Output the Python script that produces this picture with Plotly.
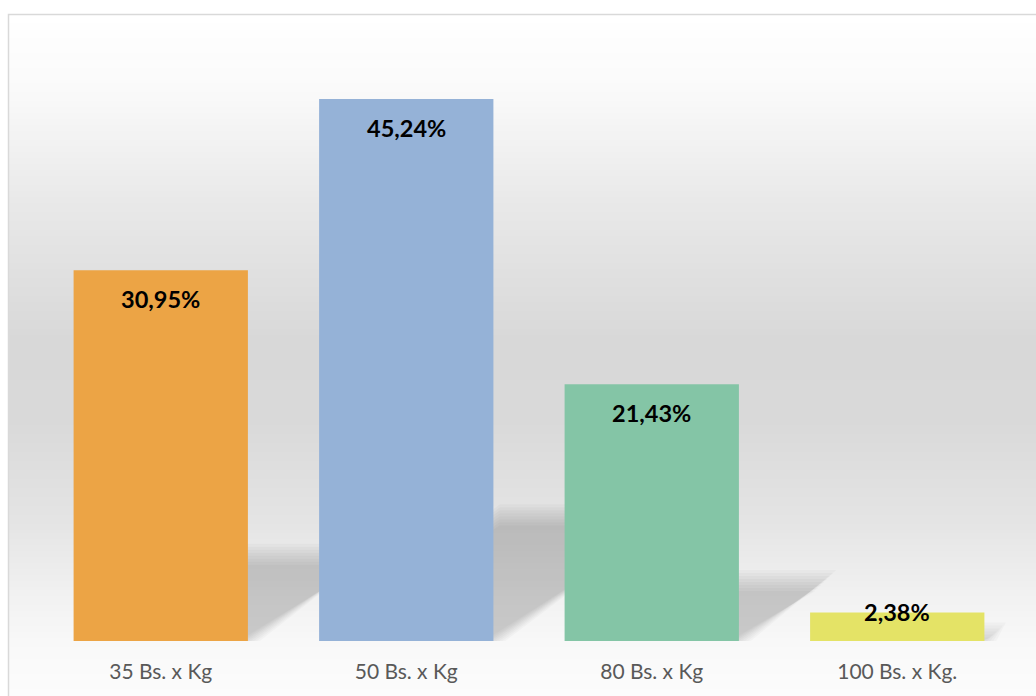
import plotly.graph_objects as go

# Price categories and the share of respondents for each
categories = ["35 Bs. x Kg", "50 Bs. x Kg", "80 Bs. x Kg", "100 Bs. x Kg."]
shares = [30.95, 45.24, 21.43, 2.38]
bar_colors = ["#eca445", "#95b2d7", "#84c5a6", "#e4e366"]

# Canvas and plot-area geometry (pixels)
W, H = 1036, 696
ML, MR, MT, MB = 38, 16, 42, 55
PW, PH = W - ML - MR, H - MT - MB
Y_MAX = 50
BAR_W = 0.71

px_per_unit = PH / Y_MAX
px_per_cat = PW / len(categories)


def paper_x(px):
    return (px - ML) / PW


def paper_y(py):
    return 1 - (py - MT) / PH


shapes = []

# Vertical gradient of the chart area: white -> grey -> white
stops = [(14, 255), (90, 250), (200, 233), (340, 216), (420, 217),
         (520, 228), (600, 242), (650, 249), (696, 252)]


def grey_at(py):
    for (y0, g0), (y1, g1) in zip(stops, stops[1:]):
        if y0 <= py <= y1:
            t = (py - y0) / (y1 - y0)
            return g0 + (g1 - g0) * t
    return stops[-1][1]


step = 3
py = 14
while py < H:
    g = int(round(grey_at(py + step / 2)))
    shapes.append(dict(
        type="rect", xref="paper", yref="paper", layer="below",
        x0=paper_x(9), x1=paper_x(W + 5),
        y0=paper_y(py + step + 0.6), y1=paper_y(py),
        line=dict(width=0), fillcolor=f"rgb({g},{g},{g})",
    ))
    py += step

# Soft perspective shadows cast behind each bar (stacked layers give a blur)
blur_steps = [-9, -6, -3, 0, 3, 6, 9, 12]
for i, v in enumerate(shares):
    left, right = i - BAR_W / 2, i + BAR_W / 2
    dy = 0.23 * v
    dx = 1.45 * dy * px_per_unit / px_per_cat
    for e in blur_steps:
        ex = e / px_per_cat
        ey = e / px_per_unit
        top = max(dy + ey, 0)
        path = (f"M {left},0 L {right + ex},0 "
                f"L {right + dx + ex},{top} L {left + dx},{top} Z")
        shapes.append(dict(
            type="path", xref="x", yref="y", layer="below", path=path,
            line=dict(width=0), fillcolor="rgba(0,0,0,0.022)",
        ))

# Chart border
shapes.append(dict(
    type="rect", xref="paper", yref="paper", layer="above",
    x0=paper_x(8.5), x1=paper_x(W + 20), y0=paper_y(H + 20), y1=paper_y(14.5),
    line=dict(color="#d9d9d9", width=1.5), fillcolor="rgba(0,0,0,0)",
))

xs = list(range(len(categories)))

fig = go.Figure()
fig.add_trace(go.Bar(
    x=xs, y=shares, width=BAR_W,
    marker=dict(color=bar_colors, line=dict(width=0)),
    hoverinfo="skip", showlegend=False,
))

# Value labels at the inside end of each bar
annotations = []
for i, v in enumerate(shares):
    bar_px = v * px_per_unit
    shift = -29 if bar_px > 60 else 0
    annotations.append(dict(
        x=i, y=v, xref="x", yref="y",
        text=f"{v:.2f}".replace(".", ",") + "%",
        showarrow=False, yanchor="middle", yshift=shift,
        font=dict(family="Lato", size=23.5, color="#000000", weight="bold"),
    ))

fig.update_layout(
    width=W, height=H,
    margin=dict(l=ML, r=MR, t=MT, b=MB, pad=0),
    paper_bgcolor="#ffffff",
    plot_bgcolor="rgba(0,0,0,0)",
    shapes=shapes,
    annotations=annotations,
    xaxis=dict(
        range=[-0.5, len(categories) - 0.5],
        tickvals=xs, ticktext=categories,
        showgrid=False, zeroline=False, showline=False, ticks="",
        tickfont=dict(family="Lato", size=21, color="#595959"),
        ticklabelstandoff=16,
        fixedrange=True,
    ),
    yaxis=dict(
        range=[0, Y_MAX], visible=False, showgrid=False, zeroline=False,
        fixedrange=True,
    ),
)

fig.write_html("out.html")
